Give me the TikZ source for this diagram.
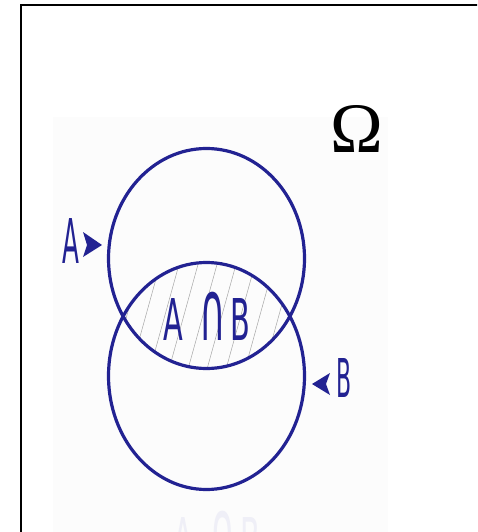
\documentclass[tikz,border=0pt]{standalone}
\usepackage{graphicx}
\usepackage{fontspec}
\newfontfamily\lblfont{DejaVu Sans}
\newfontfamily\omfont{Liberation Serif}
\definecolor{vnavy}{RGB}{34,34,146}
\newcommand{\abtext}{\scalebox{0.5}[1]{A}\hspace{16pt}\scalebox{0.63}[1.45]{∩}\hspace{5pt}\scalebox{0.5}[1]{B}}
\begin{document}
\begin{tikzpicture}[x=1pt,y=-1pt,
  setline/.style={draw=vnavy,line width=3.2pt},
  hatchline/.style={draw=gray!70,line width=0.5pt},
  lbl/.style={text=vnavy,inner sep=0pt,anchor=base},
  tri/.style={fill=vnavy}]
\useasboundingbox (0,0) rectangle (477,532);
\clip (0,0) rectangle (477,532);
\fill[black!1.2] (53,117) rectangle (388,540);
\draw[line width=2pt] (21,5) rectangle (500,560);
\coordinate (cA) at (206.5,258.5);
\coordinate (cB) at (206.5,376);
\begin{scope}
  \clip (cA) ellipse [x radius=98pt, y radius=110pt];
  \clip (cB) ellipse [x radius=98pt, y radius=113.5pt];
  \foreach \i in {0,...,14} \draw[hatchline] (90+19*\i,380) -- (126+19*\i,250);
\end{scope}
\draw[setline] (cA) ellipse [x radius=98pt, y radius=110pt];
\draw[setline] (cB) ellipse [x radius=98pt, y radius=113.5pt];
\node[lbl,font=\lblfont\fontsize{61.7}{62}\selectfont] (lA) at (71,263) {\scalebox{0.4}[1]{A}};
\node[lbl,font=\lblfont\fontsize{53.5}{54}\selectfont] (lB) at (344.5,397) {\scalebox{0.41}[1]{B}};
\node[lbl,font=\lblfont\fontsize{57.6}{58}\selectfont] (lAB) at (207,340) {\abtext};
\node[lbl,text=vnavy!7,font=\lblfont\fontsize{57.6}{58}\selectfont] (lAB2) at (217,559) {\abtext};
\node[anchor=base,inner sep=0pt,font=\omfont\fontsize{71}{71}\selectfont] (om) at (357,152) {Ω};
\fill[tri] (102,245) -- (83,232) -- (87,245) -- (83,257) -- cycle;
\fill[tri] (312,384) -- (330,373) -- (326,384) -- (330,395) -- cycle;
\end{tikzpicture}
\end{document}
